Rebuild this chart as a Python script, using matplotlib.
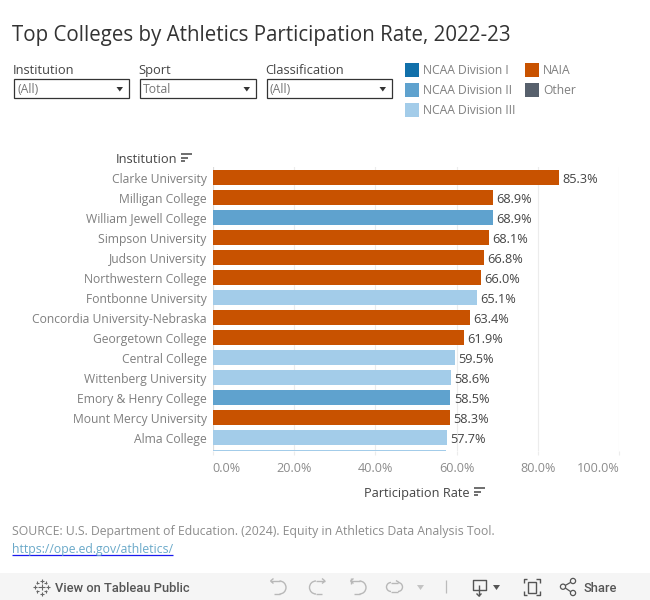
import matplotlib
matplotlib.use("Agg")
import matplotlib.pyplot as plt
from matplotlib.patches import Rectangle, Polygon, Circle, Arc
from matplotlib.lines import Line2D

W, H = 650, 600
FONT = "Open Sans"
plt.rcParams["font.family"] = [FONT, "DejaVu Sans"]

institutions = ["Clarke University", "Milligan College", "William Jewell College",
                "Simpson University", "Judson University", "Northwestern College",
                "Fontbonne University", "Concordia University-Nebraska", "Georgetown College",
                "Central College", "Wittenberg University", "Emory & Henry College",
                "Mount Mercy University", "Alma College"]
rates = [85.3, 68.9, 68.9, 68.1, 66.8, 66.0, 65.1, 63.4, 61.9, 59.5, 58.6, 58.5, 58.3, 57.7]
classes = ["NAIA", "NAIA", "NCAA Division II", "NAIA", "NAIA", "NAIA",
           "NCAA Division III", "NAIA", "NAIA", "NCAA Division III", "NCAA Division III",
           "NCAA Division II", "NAIA", "NCAA Division III"]
# the next bar in the scrolling list, of which only a sliver shows
cut_off_rate = 57.3
cut_off_class = "NCAA Division III"
class_colors = {"NCAA Division I": "#1170aa", "NCAA Division II": "#5fa2ce",
                "NCAA Division III": "#a3cce9", "NAIA": "#c85200", "Other": "#57606c"}
x_ticks = [0, 20, 40, 60, 80, 100]
x_tick_labels = ["0.0%", "20.0%", "40.0%", "60.0%", "80.0%", "100.0%"]
filters = [("Institution", "(All)", 13.5, 128.5), ("Sport", "Total", 139.5, 255.5),
           ("Classification", "(All)", 266.5, 391.5)]

fig = plt.figure(figsize=(W / 100, H / 100), dpi=100, facecolor="white")
ov = fig.add_axes([0, 0, 1, 1], zorder=5)
ov.set_xlim(0, W); ov.set_ylim(H, 0); ov.axis("off"); ov.patch.set_alpha(0)

def T(x, y, s, size=9, color="#666666", ha="left", **k):
    # y is the vertical middle of the capitals, in pixels
    return ov.text(x, y + 0.36 * size * 100 / 72, s, fontsize=size, color=color,
                   ha=ha, va="baseline", **k)

def L(xs, ys, color="#888888", lw=1.0):
    ov.add_line(Line2D(xs, ys, color=color, lw=lw, solid_capstyle="butt"))

# plot area
AX_L, AX_R, AX_T, AX_B = 212.6, 619.2, 167, 451
ax = fig.add_axes([AX_L / W, 1 - AX_B / H, (AX_R - AX_L) / W, (AX_B - AX_T) / H])
ax.set_xlim(0, 100)
ax.set_ylim((AX_B - 177.5) / 20, (AX_T - 177.5) / 20)
ax.set_axisbelow(True)
ax.barh(range(len(rates)), rates, height=0.75,
        color=[class_colors[c] for c in classes], zorder=2)
ax.barh(len(rates), cut_off_rate, height=0.75, color=class_colors[cut_off_class], zorder=2)
for i, r in enumerate(rates):
    ax.text(r + 0.8, i + (0.5 + 0.36 * 9.2 * 100 / 72) / 20, f"{r:.1f}%", va="baseline", ha="left",
            fontsize=9.2, color="#444444")
ax.set_yticks(range(len(institutions)))
ax.set_yticklabels(institutions, fontsize=8.75, color="#7f7f7f", va="center_baseline")
ax.tick_params(axis="y", length=0, pad=4.2)
ax.set_xticks(x_ticks)
ax.set_xticklabels(x_tick_labels, fontsize=9.1, color="#8c8c8c")
tl = ax.get_xticklabels()
tl[0].set_ha("left"); tl[-1].set_ha("right")
ax.tick_params(axis="x", length=3.2, width=0.8, color="#ececec", pad=4.5)
ax.grid(axis="x", color="#ececec", lw=0.8)
for s in ax.spines.values():
    s.set_visible(False)
ax.axvline(0, color="#dcdcdc", lw=0.8, zorder=1)

def sort_icon(x, y, color="#555555"):
    for dy, w in ((0, 10.5), (3.6, 7), (7.2, 3.5)):
        L([x, x + w], [y + dy, y + dy], color=color, lw=1.2)

T(116, 158.5, "Institution", size=9.25, color="#444444")
sort_icon(181, 154)
T(364, 492.5, "Participation Rate", size=9.15, color="#444444")
sort_icon(474, 488)

# title
T(12, 33.5, "Top Colleges by Athletics Participation Rate, 2022-23", size=14.78, color="#333333")

# filters
for name, val, x0, x1 in filters:
    T(x0 - 0.8, 69.5, name, size=9.25, color="#444444")
    ov.add_patch(Rectangle((x0, 79), x1 - x0, 19, fc="white", ec="#333333", lw=0.9))
    T(x0 + 3.5, 89, val, size=8.8, color="#777777")
    ov.add_patch(Polygon([(x1 - 12, 87), (x1 - 5.5, 87), (x1 - 8.7, 91.5)], fc="#333333", ec="none"))

# legend
legend = [("NCAA Division I", 405, 70), ("NCAA Division II", 405, 90), ("NCAA Division III", 405, 110),
          ("NAIA", 525, 70), ("Other", 525, 90)]
for name, x, y in legend:
    ov.add_patch(Rectangle((x, y - 7), 13.5, 14, fc=class_colors[name], ec="none"))
    T(x + 18, y, name, size=8.75, color="#7f7f7f")

# source
T(12, 531, "SOURCE: U.S. Department of Education. (2024). Equity in Athletics Data Analysis Tool.",
  size=8.8, color="#8c8c8c")
T(12, 548.5, "https://ope.ed.gov/athletics/", size=8.8, color="#6aa9c9")
L([12, 173], [554.5, 554.5], color="#1a1aee", lw=0.9)

# toolbar
ov.add_patch(Rectangle((0, 573), W, 27, fc="#f5f5f5", ec="none"))
BAR_FONT = ["Roboto", "DejaVu Sans"]
T(55, 587, "View on Tableau Public", size=9.3, color="#555555", family=BAR_FONT, fontweight="medium")
T(583, 587, "Share", size=9.3, color="#555555", family=BAR_FONT, fontweight="medium")

def plus(x, y, r, color="#666666", lw=0.8):
    L([x - r, x + r], [y, y], color=color, lw=lw)
    L([x, x], [y - r, y + r], color=color, lw=lw)

plus(41.5, 587, 3.2)
for dx, dy in ((0, -6.5), (0, 6.5), (-6.5, 0), (6.5, 0), (-4.3, -4.3), (4.3, -4.3), (-4.3, 4.3), (4.3, 4.3)):
    plus(41.5 + dx, 587 + dy, 1.5 if dx and dy else 2)

GREY = "#b8b8b8"
def curved(x_left, x_right, flip):
    # a horizontal run ending in a half circle, pointing left, or right when flipped
    r = 6.5
    if not flip:
        cx = x_right - r
        ov.add_patch(Arc((cx, 587.5), 2 * r, 2 * r, theta1=-90, theta2=90, ec=GREY, lw=1.0))
        L([x_left, cx], [581, 581], color=GREY)
        L([x_left + 3, cx], [594, 594], color=GREY)
        L([x_left, x_left + 3], [581, 578.5], color=GREY)
        L([x_left, x_left + 3], [581, 583.5], color=GREY)
    else:
        cx = x_left + r
        ov.add_patch(Arc((cx, 587.5), 2 * r, 2 * r, theta1=90, theta2=270, ec=GREY, lw=1.0))
        L([cx, x_right], [581, 581], color=GREY)
        L([cx, x_right - 3], [594, 594], color=GREY)
        L([x_right, x_right - 3], [581, 578.5], color=GREY)
        L([x_right, x_right - 3], [581, 583.5], color=GREY)

curved(270.5, 286, False)
curved(309.5, 325, True)
curved(350.5, 366, False)
L([350.5, 350.5], [578, 584], color=GREY)
# refresh
ov.add_patch(Arc((391, 587), 9, 9, theta1=90, theta2=270, ec=GREY, lw=1.0))
ov.add_patch(Arc((398, 587), 9, 9, theta1=-90, theta2=90, ec=GREY, lw=1.0))
L([391, 398], [582.5, 582.5], color=GREY)
L([391, 398], [591.5, 591.5], color=GREY)
L([396, 399], [580.5, 582.5], color=GREY)
ov.add_patch(Polygon([(417, 585), (424, 585), (420.5, 590)], fc="#c4c4c4", ec="none"))
L([445.5, 445.5], [580, 593], color="#bbbbbb", lw=0.9)
# download
L([479, 472.5, 472.5, 485.5, 485.5, 479], [590, 590, 579.5, 579.5, 590, 590], color="#555555")
L([479, 479], [585, 596], color="#555555")
L([476.5, 479, 481.5], [593.5, 596, 593.5], color="#555555")
ov.add_patch(Polygon([(493, 585), (500, 585), (496.5, 590)], fc="#555555", ec="none"))
# fullscreen
ov.add_patch(Rectangle((527.5, 581.5), 8, 11, fc="none", ec="#555555", lw=1.0))
for xa, xb, ya, yb in ((523.5, 527, 583, 579), (539.5, 536, 583, 579), (523.5, 527, 591, 595), (539.5, 536, 591, 595)):
    L([xa, xa, xb], [ya, yb, yb], color="#555555")
# share
for cx, cy in ((563, 586.7), (573, 581), (573, 593)):
    ov.add_patch(Circle((cx, cy), 2.6, fc="none", ec="#555555", lw=0.9))
L([565.3, 570.7], [585.4, 582.3], color="#555555", lw=0.9)
L([565.3, 570.7], [588, 591.7], color="#555555", lw=0.9)

fig.savefig("out.png", dpi=100, facecolor="white")
